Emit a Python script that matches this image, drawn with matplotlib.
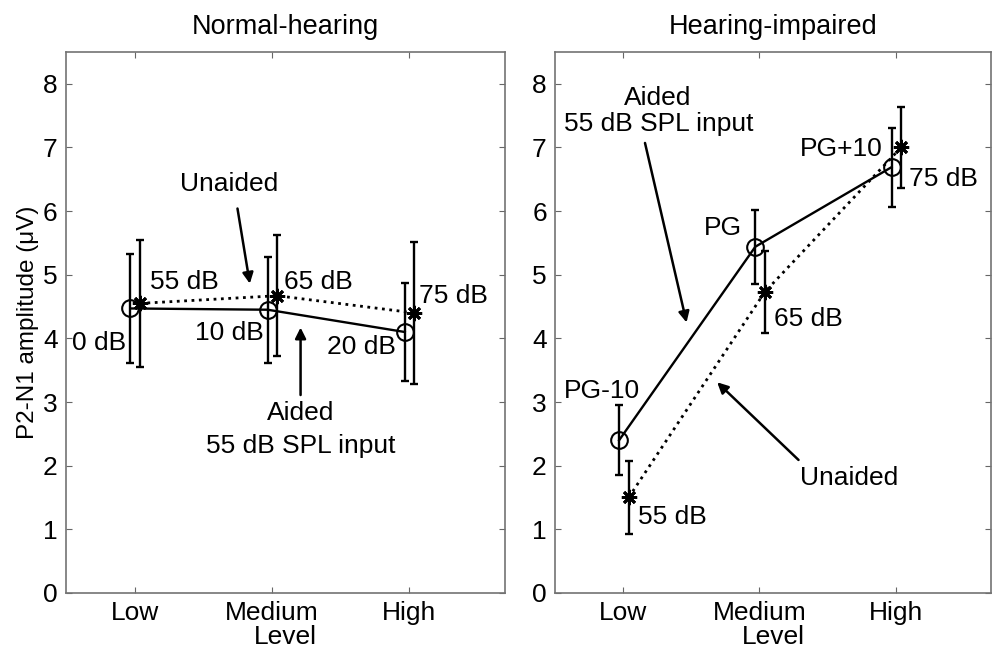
import numpy as np
import matplotlib
matplotlib.use('Agg')
import matplotlib.pyplot as plt

plt.rcParams['font.family'] = ['Liberation Sans', 'DejaVu Sans']
plt.rcParams['font.size'] = 19

levels = ['Low', 'Medium', 'High']

# normal-hearing
nh_aided = [4.47, 4.45, 4.10]
nh_aided_err = [0.86, 0.83, 0.77]
nh_unaided = [4.55, 4.67, 4.40]
nh_unaided_err = [1.00, 0.95, 1.12]

# hearing-impaired
hi_aided = [2.40, 5.44, 6.69]
hi_aided_err = [0.55, 0.58, 0.62]
hi_unaided = [1.50, 4.73, 7.00]
hi_unaided_err = [0.57, 0.65, 0.64]

fig = plt.figure(figsize=(9.93, 6.55), dpi=100)
ax1 = fig.add_axes([0.0665, 0.0947, 0.442, 0.826])
ax2 = fig.add_axes([0.559, 0.0947, 0.439, 0.826])

x = np.arange(1, 4)


def draw(ax, aided, aided_err, unaided, unaided_err, title):
    ax.errorbar(x - 0.03, aided, yerr=aided_err, fmt='none', ecolor='k',
                elinewidth=1.7, capsize=3, capthick=1.7, zorder=2)
    ax.errorbar(x + 0.04, unaided, yerr=unaided_err, fmt='none', ecolor='k',
                elinewidth=1.7, capsize=3, capthick=1.7, zorder=2)
    ax.plot(x - 0.03, aided, '-', color='k', lw=1.7, marker='o', ms=12,
            mfc='none', mew=1.5, zorder=3)
    ax.plot(x + 0.04, unaided, ':', color='k', lw=2, marker=(8, 2, 0), ms=11,
            mew=2, zorder=3)
    ax.set_xlim(0.5, 3.7)
    ax.set_ylim(0, 8.5)
    ax.set_xticks(x)
    ax.set_xticklabels(levels)
    ax.set_yticks(range(9))
    ax.set_xlabel('Level', labelpad=0)
    ax.set_title(title, pad=13, fontsize=19.5)
    ax.tick_params(direction='in', length=4, top=True, right=True, pad=6,
                   color='0.4')
    for s in ax.spines.values():
        s.set_color('0.45')
        s.set_linewidth(1.2)


draw(ax1, nh_aided, nh_aided_err, nh_unaided, nh_unaided_err, 'Normal-hearing')
draw(ax2, hi_aided, hi_aided_err, hi_unaided, hi_unaided_err, 'Hearing-impaired')
ax1.set_ylabel('P2-N1 amplitude (\u03bcV)', labelpad=3, fontsize=17.5)

arrow = dict(arrowstyle='-|>', color='k', lw=1.8, mutation_scale=16,
             shrinkA=0, shrinkB=0)

# left panel labels
ax1.text(0.94, 3.92, '0 dB', ha='right', va='center')
ax1.text(1.11, 4.88, '55 dB', ha='left', va='center')
ax1.text(1.945, 4.09, '10 dB', ha='right', va='center')
ax1.text(2.09, 4.88, '65 dB', ha='left', va='center')
ax1.text(2.905, 3.86, '20 dB', ha='right', va='center')
ax1.text(3.07, 4.67, '75 dB', ha='left', va='center')
ax1.text(1.69, 6.43, 'Unaided', ha='center', va='center')
ax1.annotate('', xy=(1.84, 4.86), xytext=(1.75, 6.04), arrowprops=arrow)
ax1.text(2.21, 2.82, 'Aided', ha='center', va='center')
ax1.text(2.21, 2.31, '55 dB SPL input', ha='center', va='center')
ax1.annotate('', xy=(2.21, 4.17), xytext=(2.21, 3.11), arrowprops=arrow)

# right panel labels
ax2.text(1.255, 7.78, 'Aided', ha='center', va='center')
ax2.text(1.26, 7.37, '55 dB SPL input', ha='center', va='center')
ax2.annotate('', xy=(1.465, 4.25), xytext=(1.16, 7.07), arrowprops=arrow)
ax2.text(1.873, 5.74, 'PG', ha='right', va='center')
ax2.text(2.105, 4.31, '65 dB', ha='left', va='center')
ax2.text(2.905, 6.98, 'PG+10', ha='right', va='center')
ax2.text(3.10, 6.51, '75 dB', ha='left', va='center')
ax2.text(0.564, 3.18, 'PG-10', ha='left', va='center')
ax2.text(1.11, 1.19, '55 dB', ha='left', va='center')
ax2.text(2.30, 1.80, 'Unaided', ha='left', va='center')
ax2.annotate('', xy=(1.69, 3.31), xytext=(2.287, 2.09), arrowprops=arrow)

fig.savefig('out.png', dpi=100)
